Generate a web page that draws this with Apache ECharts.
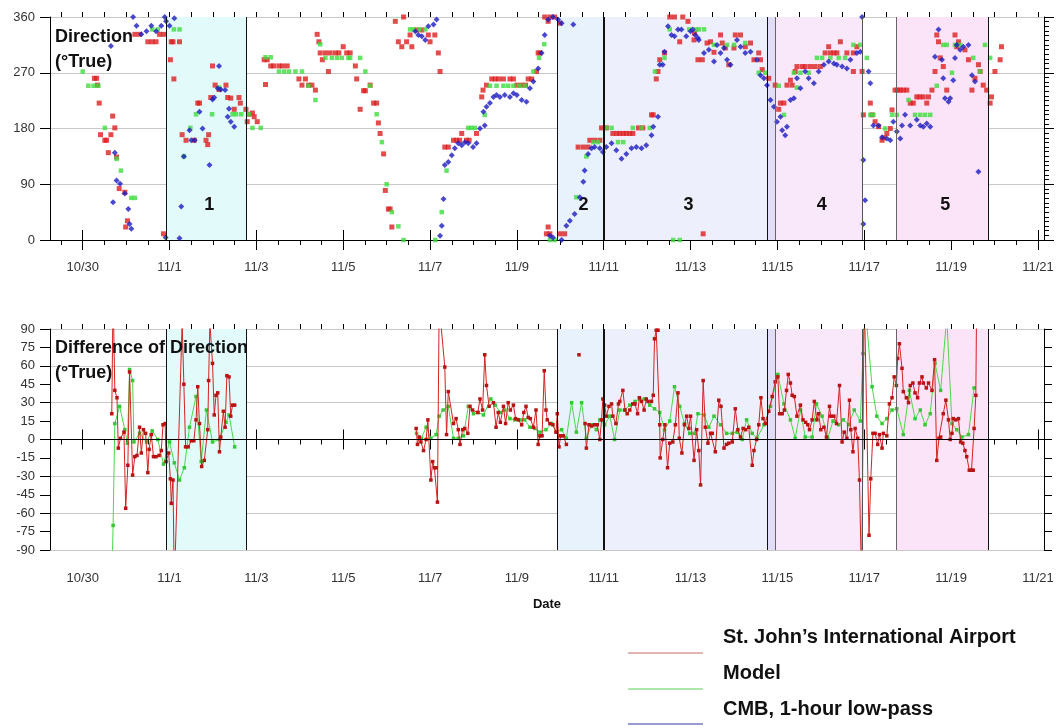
<!DOCTYPE html>
<html>
<head>
<meta charset="utf-8">
<script src="https://cdn.jsdelivr.net/npm/echarts@6/dist/echarts.min.js"></script>
<style>
  html, body { margin: 0; padding: 0; background: #fff; }
  #chart { width: 1057px; height: 728px; }
</style>
</head>
<body>
<div id="chart"></div>
<script>
// x values are day numbers counted from 1 October (Oct 30 = 30, Nov 1 = 32, Nov 21 = 52)

const dateTicks = [30, 32, 34, 36, 38, 40, 42, 44, 46, 48, 50, 52];
const halfDayTicks = [29.5, 30, 30.5, 31, 31.5, 32, 32.5, 33, 33.5, 34, 34.5, 35, 35.5, 36, 36.5, 37, 37.5,
  38, 38.5, 39, 39.5, 40, 40.5, 41, 41.5, 42, 42.5, 43, 43.5, 44, 44.5, 45, 45.5, 46, 46.5, 47, 47.5,
  48, 48.5, 49, 49.5, 50, 50.5, 51, 51.5, 52];

// event periods (start, end) in day numbers
const periods = [
  { name: '1', from: 31.935, to: 33.762 },
  { name: '2', from: 40.933, to: 42.0 },
  { name: '3', from: 42.0, to: 45.77 },
  { name: '',  from: 45.77, to: 45.955 },
  { name: '4', from: 45.955, to: 47.95 },
  { name: '5', from: 48.735, to: 50.855 }
];
const periodEdges = [31.935, 33.762, 40.933, 42.0, 45.77, 45.955, 47.95, 48.735, 50.855];

// wind direction, St. John's International Airport
const stnDir = [
  [30.27,261],[30.32,261],[30.34,250],[30.38,221],[30.41,170],[30.51,161],[30.55,161],[30.59,141],[30.65,170],[30.69,200],
  [30.74,181],[30.78,134],[30.84,83],[30.97,77],[30.99,21],[31.03,31],[31.2,332],[31.31,332],[31.5,320],[31.6,320],
  [31.69,320],[31.77,332],[31.87,332],[31.86,10],[32.02,291],[32.04,320],[32.08,320],[32.1,260],[32.23,320],
  [32.29,170],[32.38,161],[32.57,161],[32.65,221],[32.69,221],[32.84,161],[32.88,154],[32.9,170],[32.95,230],[32.99,281],
  [33.05,250],[33.14,243],[33.3,250],[33.34,230],[33.41,229],[33.49,211],[33.6,230],[33.63,221],[33.76,211],[33.79,191],
  [33.83,203],[33.91,205],[33.95,199],[34.02,191],[34.18,291],[34.21,251],[34.25,291],[34.33,281],[34.4,281],[34.52,281],
  [34.6,281],[34.71,281],[34.98,260],[35.05,250],[35.13,260],[35.2,250],[35.28,250],[35.36,242],[35.4,332],[35.44,320],
  [35.47,302],[35.52,291],[35.59,302],[35.66,272],[35.7,302],[35.82,302],[35.9,302],[36.0,312],[36.08,302],[36.16,302],
  [36.28,281],[36.31,260],[36.39,211],[36.47,241],[36.51,241],[36.62,250],[36.7,221],[36.77,221],[36.81,189],[36.85,172],
  [36.93,139],[36.97,80],[37.04,50],[37.08,50],[37.12,21],[37.2,353],[37.27,320],[37.35,312],[37.39,360],[37.46,320],
  [37.54,331],[37.58,312],[37.69,339],[37.81,339],[37.96,331],[38.0,320],[38.11,331],[38.19,302],[38.23,272],[38.34,150],
  [38.42,150],[38.54,161],[38.61,161],[38.68,161],[38.73,172],[38.84,161],[38.9,161],[39.07,172],[39.19,231],[39.22,242],
  [39.3,250],[39.42,260],[39.5,260],[39.58,260],[39.69,260],[39.84,260],[39.92,260],[40.0,250],[40.11,250],[40.2,250],
  [40.26,260],[40.34,260],[40.45,272],[40.49,302],[40.53,302],[40.64,360],[40.72,353],[40.76,360],[40.87,360],[40.99,350],
  [40.68,10],[40.72,21],[40.76,10],[40.99,10],[41.1,10],[41.41,150],[41.53,150],[41.64,150],[41.68,161],[41.79,161],
  [41.91,161],[41.95,181],[42.06,181],[42.21,172],[42.3,172],[42.37,172],[42.45,172],[42.52,172],[42.6,172],[42.67,172],
  [42.8,181],[42.9,181],[43.1,202],[43.14,202],[43.21,260],[43.25,272],[43.29,291],[43.4,302],[43.52,360],[43.63,360],
  [43.75,320],[43.82,360],[43.94,353],[44.09,334],[44.17,291],[44.08,323],[44.27,291],[44.29,10],[44.38,318],[44.46,320],
  [44.54,303],[44.69,331],[44.73,318],[44.8,310],[44.88,283],[45.0,310],[45.03,331],[45.15,331],[45.26,312],[45.38,318],
  [45.46,291],[45.57,302],[45.61,291],[45.65,275],[45.8,261],[45.95,250],[46.03,211],[46.07,221],[46.15,221],[46.22,250],
  [46.3,258],[46.34,250],[46.41,272],[46.45,280],[46.57,280],[46.64,280],[46.76,280],[46.87,280],[46.99,280],[47.1,302],
  [47.18,312],[47.22,302],[47.3,302],[47.37,302],[47.45,320],[47.6,302],[47.75,302],[47.83,312],[47.75,272],[47.95,272],
  [47.98,202],[48.14,221],[48.18,202],[48.25,191],[48.33,183],[48.41,161],[48.45,165],[48.52,172],[48.6,180],[48.64,210],
  [48.71,242],[48.77,242],[48.83,242],[48.9,242],[48.98,242],[49.06,221],[49.13,221],[49.21,231],[49.28,231],[49.36,231],
  [49.44,221],[49.48,231],[49.56,242],[49.63,272],[49.67,331],[49.71,320],[49.75,294],[49.82,280],[49.9,242],[50.09,331],
  [50.13,312],[50.17,320],[50.32,307],[50.4,291],[50.48,242],[50.55,261],[50.63,283],[50.67,272],[50.74,250],[50.82,242],
  [50.9,221],[50.93,231],[51.01,272],[51.13,291],[51.16,312]
];

// wind direction, model
const modelDir = [
  [30.0,272],[30.13,249],[30.25,249],[30.36,249],[30.51,181],[30.78,131],[30.88,112],[31.12,68],[31.2,68],[31.6,340],
  [31.73,340],[32.1,340],[32.23,340],[32.33,135],[32.48,181],[32.61,203],[32.98,203],[33.14,246],[33.45,203],[33.53,203],
  [33.65,203],[33.83,203],[33.91,181],[34.1,181],[34.21,295],[34.33,295],[34.52,272],[34.64,272],[34.75,272],[34.9,272],
  [35.05,272],[35.2,249],[35.36,226],[35.47,316],[35.59,294],[35.74,294],[35.86,294],[35.97,294],[36.12,294],[36.16,294],
  [36.39,294],[36.51,272],[36.62,249],[36.77,203],[36.89,158],[37.0,90],[37.12,45],[37.27,22],[37.39,0],[37.54,340],
  [37.62,340],[37.75,340],[37.89,340],[38.12,0],[38.27,45],[38.38,112],[38.88,181],[38.95,181],[39.03,181],[39.26,202],
  [39.38,249],[39.53,249],[39.69,249],[39.8,249],[39.92,249],[40.05,249],[40.18,249],[40.38,272],[40.51,294],[40.63,316],
  [40.76,0],[40.87,0],[41.37,69],[41.6,135],[41.76,158],[41.87,158],[42.06,181],[42.18,181],[42.33,158],[42.45,158],
  [42.67,181],[42.87,181],[43.06,181],[43.18,272],[43.4,294],[43.52,340],[43.6,0],[43.75,0],[43.97,340],[44.13,340],
  [44.19,340],[44.31,340],[44.54,315],[44.84,315],[45.0,315],[45.26,318],[45.57,270],[45.72,270],[46.03,249],[46.15,202],
  [46.38,270],[46.45,246],[46.53,270],[46.72,270],[46.91,294],[47.03,294],[47.22,294],[47.41,294],[47.56,294],[47.75,315],
  [47.91,315],[48.06,294],[48.14,202],[48.21,202],[48.48,180],[48.64,202],[48.75,202],[49.02,226],[49.17,202],[49.29,202],
  [49.4,202],[49.52,202],[49.67,249],[49.82,315],[49.9,315],[50.02,270],[50.09,315],[50.21,315],[50.51,294],[50.67,272],
  [50.78,315],[50.9,294]
];

// wind direction, CMB 1-hour low-pass
const cmbDir = [
  [30.65,313],[30.7,61],[30.74,141],[30.78,96],[30.86,91],[30.97,75],[31.05,50],[31.08,26],[31.12,18],[31.16,360],
  [31.24,346],[31.35,332],[31.47,337],[31.58,346],[31.69,337],[31.81,346],[31.89,360],[31.92,353],[32.0,346],[32.11,358],
  [31.91,4],[32.23,3],[32.27,54],[32.33,135],[32.46,177],[32.5,161],[32.58,161],[32.69,207],[32.76,180],[32.92,121],
  [32.99,227],[33.03,230],[33.11,245],[33.14,281],[33.18,243],[33.28,242],[33.34,199],[33.37,212],[33.41,191],[33.49,183],
  [37.66,337],[37.73,331],[37.81,329],[37.89,323],[37.96,345],[38.08,348],[38.15,356],[38.23,7],[38.27,23],[38.31,66],
  [38.34,121],[38.42,126],[38.5,137],[38.57,148],[38.65,156],[38.73,153],[38.8,158],[38.88,156],[38.99,150],[39.07,156],
  [39.15,180],[39.23,207],[39.26,185],[39.3,215],[39.38,221],[39.46,231],[39.53,234],[39.61,231],[39.72,234],[39.84,231],
  [39.92,237],[40.0,234],[40.11,226],[40.22,223],[40.3,245],[40.38,256],[40.49,277],[40.57,302],[40.64,331],[40.72,356],
  [40.83,360],[40.95,356],[41.03,350],[41.3,348],[40.76,7],[40.83,4],[41.03,0],[41.14,23],[41.22,31],[41.33,42],
  [41.45,69],[41.53,94],[41.56,112],[41.64,139],[41.72,148],[41.79,150],[41.91,148],[41.98,142],[42.06,150],[42.18,156],
  [42.29,145],[42.41,131],[42.52,139],[42.64,148],[42.75,150],[42.87,148],[42.98,153],[43.1,169],[43.14,183],[43.25,199],
  [43.29,283],[43.36,283],[43.4,304],[43.48,345],[43.56,331],[43.63,329],[43.71,340],[43.79,340],[43.9,329],[44.0,337],
  [44.05,340],[44.11,331],[44.17,326],[44.19,323],[44.31,302],[44.42,307],[44.54,288],[44.61,315],[44.69,302],[44.77,310],
  [44.84,291],[44.92,283],[45.07,323],[45.15,312],[45.26,302],[45.38,304],[45.53,291],[45.61,266],[45.69,261],[45.76,250],
  [45.84,226],[45.92,215],[45.99,191],[46.07,199],[46.11,177],[46.18,169],[46.22,183],[46.3,226],[46.38,229],[46.45,261],
  [46.53,245],[46.64,272],[46.72,261],[46.84,253],[46.95,272],[47.07,283],[47.18,288],[47.3,285],[47.37,283],[47.49,280],
  [47.6,277],[47.68,291],[47.83,302],[47.91,304],[47.95,360],[47.98,129],[48.02,64],[47.98,26],[48.1,272],[48.14,253],
  [48.21,185],[48.33,185],[48.41,166],[48.52,164],[48.6,161],[48.67,191],[48.75,175],[48.83,164],[48.87,185],[48.94,202],
  [49.06,185],[49.21,194],[49.29,185],[49.36,183],[49.44,188],[49.52,183],[49.63,296],[49.71,340],[49.79,291],[49.82,261],
  [49.86,229],[49.94,223],[49.98,229],[50.05,258],[50.09,294],[50.13,315],[50.21,307],[50.28,312],[50.4,315],[50.48,266],
  [50.55,256],[50.63,110]
];

// direction difference, St. John's International Airport ('-' marks a gap)
const stnDiff = [
  [30.67,21],[30.7,120],[30.74,40],[30.79,34],[30.82,-7],[30.87,1],[30.95,6],[30.99,-56],[31.04,-21],[31.08,55],
  [31.15,-29],[31.2,-14],[31.25,-13],[31.31,10],[31.35,-11],[31.4,8],[31.45,5],[31.5,-27],[31.53,-8],[31.58,4],
  [31.63,-14],[31.69,-14],[31.76,-13],[31.81,-9],[31.85,12],[31.9,13],[31.92,-18],[31.98,-11],[32.02,-32],[32.04,-52],
  [32.08,-33],[32.11,-120],[32.29,95],[32.33,45],[32.37,-6],[32.43,-6],[32.5,-1],[32.56,-1],[32.61,16],[32.65,43],
  [32.69,13],[32.74,-22],[32.8,-17],[32.88,8],[32.9,48],[32.93,95],[32.99,62],[33.03,20],[33.07,36],[33.11,38],
  [33.15,-10],[33.18,2],[33.24,23],[33.28,10],[33.32,52],[33.37,51],[33.41,19],[33.45,28],[33.5,28],[35.5,'-'],
  [37.68,9],[37.71,-4],[37.75,2],[37.79,-2],[37.85,-9],[37.91,0],[37.95,16],[38.02,-33],[38.06,-18],[38.1,-23],
  [38.14,-23],[38.17,-51],[38.21,110],[38.34,59],[38.38,4],[38.42,39],[38.54,13],[38.6,17],[38.65,8],[38.69,-4],
  [38.75,8],[38.8,9],[38.87,5],[38.92,27],[38.98,24],[39.1,22],[39.15,33],[39.21,24],[39.26,69],[39.3,44],
  [39.36,27],[39.46,30],[39.52,10],[39.57,22],[39.62,14],[39.69,27],[39.74,13],[39.8,30],[39.85,24],[39.92,28],
  [39.97,17],[40.03,16],[40.11,12],[40.16,22],[40.21,27],[40.26,18],[40.31,17],[40.38,10],[40.44,24],[40.49,-4],
  [40.53,3],[40.58,3],[40.63,56],[40.67,24],[40.7,16],[40.76,13],[40.83,12],[40.9,6],[40.93,21],[40.97,-6],
  [41.01,3],[41.07,3],[41.14,-4],[41.3,'-'],[41.43,69],[41.5,'-'],[41.57,13],[41.6,-7],[41.66,12],[41.72,11],
  [41.79,12],[41.85,12],[41.91,0],[41.95,16],[41.98,33],[42.02,28],[42.06,19],[42.12,27],[42.18,29],[42.21,19],
  [42.28,13],[42.34,29],[42.37,31],[42.44,40],[42.49,24],[42.54,21],[42.6,24],[42.67,29],[42.72,29],[42.78,21],
  [42.82,34],[42.87,31],[42.93,24],[42.98,33],[43.02,31],[43.1,31],[43.14,36],[43.17,82],[43.21,89],[43.25,89],
  [43.29,12],[43.3,-15],[43.36,0],[43.41,12],[43.47,-23],[43.52,-3],[43.59,-2],[43.65,12],[43.71,38],[43.74,1],
  [43.8,-11],[43.86,12],[43.91,19],[43.96,9],[44.0,19],[44.08,-17],[44.14,8],[44.19,-9],[44.23,-37],[44.29,48],
  [44.34,10],[44.4,-3],[44.46,5],[44.5,5],[44.57,-10],[44.65,32],[44.7,27],[44.77,-7],[44.83,-4],[44.88,-3],
  [44.96,-2],[45.03,25],[45.09,8],[45.15,2],[45.21,9],[45.27,8],[45.34,10],[45.42,-21],[45.46,-9],[45.52,0],
  [45.57,12],[45.62,34],[45.67,17],[45.72,13],[45.8,23],[45.88,35],[45.95,47],[46.01,51],[46.05,21],[46.11,21],
  [46.16,24],[46.21,40],[46.25,53],[46.3,46],[46.34,36],[46.39,35],[46.45,19],[46.53,28],[46.59,16],[46.65,14],
  [46.7,12],[46.74,8],[46.8,16],[46.85,31],[46.91,16],[46.95,21],[47.0,8],[47.07,10],[47.13,2],[47.2,27],
  [47.23,19],[47.3,19],[47.36,13],[47.43,44],[47.49,-2],[47.54,6],[47.6,1],[47.66,32],[47.69,8],[47.74,-10],
  [47.79,9],[47.85,1],[47.89,-33],[47.94,-120],[48.0,120],[48.11,-78],[48.15,-32],[48.2,5],[48.25,5],[48.31,-4],
  [48.35,4],[48.41,-7],[48.44,5],[48.52,3],[48.58,29],[48.64,34],[48.69,51],[48.74,44],[48.77,66],[48.81,78],
  [48.87,58],[48.9,39],[48.97,34],[49.02,30],[49.06,44],[49.12,46],[49.17,38],[49.23,34],[49.27,46],[49.33,51],
  [49.36,46],[49.43,42],[49.48,46],[49.56,40],[49.62,65],[49.67,-17],[49.72,1],[49.76,2],[49.82,21],[49.88,32],
  [49.94,16],[49.98,0],[50.02,5],[50.05,17],[50.11,16],[50.17,17],[50.22,-2],[50.27,-3],[50.32,-9],[50.36,-14],
  [50.42,-25],[50.47,-25],[50.51,-25],[50.53,9],[50.57,36],[50.59,120]
];

// direction difference, model
const modelDiff = [
  [30.67,-120],[30.7,-70],[30.74,13],[30.85,27],[30.97,8],[31.03,-3],[31.08,57],[31.15,48],[31.18,-2],[31.31,5],
  [31.47,-2],[31.6,7],[31.73,0],[31.86,-20],[32.0,-2],[32.11,-19],[32.23,-33],[32.34,-23],[32.46,10],[32.61,35],
  [32.73,-18],[32.85,24],[32.99,-2],[33.15,0],[33.3,14],[33.37,20],[33.5,-6],[35.5,'-'],
  [37.69,5],[37.8,1],[37.91,10],[38.02,1],[38.14,4],[38.21,19],[38.3,24],[38.42,27],[38.54,1],[38.65,1],
  [38.77,3],[38.88,27],[39.0,21],[39.11,22],[39.23,20],[39.4,33],[39.5,28],[39.62,22],[39.72,24],[39.84,17],
  [39.95,16],[40.07,16],[40.18,16],[40.3,10],[40.41,9],[40.53,6],[40.67,8],[40.8,13],[40.91,6],[41.03,8],
  [41.14,1],[41.26,30],[41.37,6],[41.49,30],[41.6,1],[41.72,12],[41.83,8],[41.91,16],[42.02,12],[42.14,19],
  [42.25,0],[42.37,24],[42.48,24],[42.6,28],[42.72,31],[42.83,33],[42.94,33],[43.06,28],[43.17,25],[43.29,22],
  [43.4,8],[43.52,15],[43.63,43],[43.75,27],[43.86,13],[43.98,5],[44.09,5],[44.17,21],[44.31,20],[44.42,10],
  [44.54,19],[44.69,12],[44.83,5],[44.96,5],[45.07,6],[45.19,0],[45.29,16],[45.42,5],[45.53,1],[45.69,12],
  [45.84,27],[46.01,53],[46.15,29],[46.3,16],[46.41,1],[46.53,24],[46.64,2],[46.8,2],[46.9,29],[47.03,19],
  [47.16,1],[47.28,15],[47.41,12],[47.52,16],[47.64,12],[47.77,24],[47.91,15],[47.97,70],[48.02,110],[48.18,43],
  [48.29,19],[48.41,13],[48.52,17],[48.64,24],[48.75,25],[48.9,4],[49.04,40],[49.17,17],[49.29,24],[49.4,12],
  [49.52,21],[49.63,62],[49.76,40],[49.9,100],[50.02,13],[50.13,8],[50.25,2],[50.4,4],[50.53,42]
];

const legendNames = ['St. John\u2019s International Airport', 'Model', 'CMB, 1-hour low-pass'];

// ---------- styling ----------
const FONT = '"Liberation Sans", Arial, sans-serif';
const RED = '#dc1f1f', GREEN = '#3ddc3d', BLUE = '#1c1cc0';
const periodColors = ['#e2fafa', '#e7f2fc', '#eeeffc', '#e2ddf6', '#f9e8f9', '#fbe4f7'];
const edgeColors = ['#111', '#111', '#111', '#111', '#111', '#666', '#555', '#666', '#111'];
const X_MIN = 29.247, X_MAX = 52.14;

const dateFmt = v => (v <= 31 ? '10/' + Math.round(v) : '11/' + Math.round(v - 31));

function xAxesFor(gridIndex, withName, labelMargin) {
  const base = {
    type: 'value', gridIndex, min: X_MIN, max: X_MAX,
    splitLine: { show: false }
  };
  return [
    Object.assign({}, base, {
      position: 'bottom',
      axisLine: { lineStyle: { color: '#000', width: 1 } },
      axisTick: { inside: false, length: 10, customValues: dateTicks, lineStyle: { color: '#000' } },
      axisLabel: { customValues: dateTicks, formatter: dateFmt, margin: labelMargin, fontFamily: FONT, fontSize: 13, color: '#333' },
      name: withName ? 'Date' : '', nameLocation: 'middle', nameGap: 48,
      nameTextStyle: { fontFamily: FONT, fontSize: 13, fontWeight: 'bold', color: '#111' }
    }),
    Object.assign({}, base, {
      position: 'bottom',
      axisLine: { show: false },
      axisTick: { length: 5, customValues: halfDayTicks, lineStyle: { color: '#000' } },
      axisLabel: { show: false }
    }),
    Object.assign({}, base, {
      position: 'top',
      axisLine: { lineStyle: { color: '#000', width: 1 } },
      axisTick: { length: 10, customValues: dateTicks, lineStyle: { color: '#000' } },
      axisLabel: { show: false }
    }),
    Object.assign({}, base, {
      position: 'top',
      axisLine: { show: false },
      axisTick: { length: 5, customValues: halfDayTicks, lineStyle: { color: '#000' } },
      axisLabel: { show: false }
    })
  ];
}

const yLabel = { fontFamily: FONT, fontSize: 13, color: '#333', margin: 15 };

const yAxes = [
  // top panel: 0..360
  { type: 'value', gridIndex: 0, position: 'left', min: 0, max: 360, interval: 90,
    axisLine: { show: true, lineStyle: { color: '#000' } },
    axisTick: { show: true, length: 10, lineStyle: { color: '#000' } },
    axisLabel: yLabel,
    splitLine: { show: true, lineStyle: { color: '#c8c8c8', width: 1 } } },
  { type: 'value', gridIndex: 0, position: 'right', min: 0, max: 360, interval: 7.5,
    axisLine: { show: true, lineStyle: { color: '#000' } },
    axisTick: { show: true, length: 5, lineStyle: { color: '#000' } },
    axisLabel: { show: false }, splitLine: { show: false } },
  { type: 'value', gridIndex: 0, position: 'right', min: 0, max: 360, interval: 90,
    axisLine: { show: false },
    axisTick: { show: true, length: 10, lineStyle: { color: '#000' } },
    axisLabel: { show: false }, splitLine: { show: false } },
  // bottom panel: -90..90
  { type: 'value', gridIndex: 1, position: 'left', min: -90, max: 90, interval: 15,
    axisLine: { show: true, lineStyle: { color: '#000' } },
    axisTick: { show: true, length: 10, lineStyle: { color: '#000' } },
    axisLabel: yLabel, splitLine: { show: false } },
  { type: 'value', gridIndex: 1, position: 'right', min: -90, max: 90, interval: 15,
    axisLine: { show: true, lineStyle: { color: '#000' } },
    axisTick: { show: true, length: 8, lineStyle: { color: '#000' } },
    axisLabel: { show: false }, splitLine: { show: false } },
  { type: 'value', gridIndex: 1, position: 'left', min: -90, max: 90, interval: 30,
    axisLine: { show: false }, axisTick: { show: false }, axisLabel: { show: false },
    splitLine: { show: true, lineStyle: { color: '#c8c8c8', width: 1 } } }
];

function periodAreas(withLabels) {
  return periods.map((p, i) => [
    { xAxis: p.from, itemStyle: { color: periodColors[i] },
      label: withLabels && p.name ? {
        show: true, position: 'insideBottom', distance: 26, offset: [3, 0],
        formatter: p.name, fontFamily: FONT, fontSize: 18, fontWeight: 'bold', color: '#111'
      } : { show: false } },
    { xAxis: p.to }
  ]);
}

function periodLines(extra) {
  const lines = periodEdges.map((x, i) => ({
    xAxis: x, lineStyle: { color: edgeColors[i], width: x === 42.0 ? 2 : 1, type: 'solid' }
  }));
  return lines.concat(extra || []);
}

function backdrop(xi, yi, withLabels, extraLines) {
  return {
    type: 'line', xAxisIndex: xi, yAxisIndex: yi, data: [], silent: true, z: 1,
    markArea: { silent: true, data: periodAreas(withLabels) },
    markLine: { silent: true, symbol: 'none', label: { show: false }, animation: false,
      data: periodLines(extraLines) }
  };
}

function dots(name, data, color, symbol, size) {
  return {
    name, type: 'scatter', xAxisIndex: 0, yAxisIndex: 0, data, z: 3,
    symbol, symbolSize: size, itemStyle: { color }, animation: false
  };
}

function diffLine(name, data, lineColor, dotColor, z) {
  return {
    name, type: 'line', xAxisIndex: 4, yAxisIndex: 3, data, z,
    symbol: 'rect', symbolSize: 3.5, showSymbol: true, connectNulls: false,
    lineStyle: { color: lineColor, width: 1 }, itemStyle: { color: dotColor },
    animation: false
  };
}

const legendY = [653, 689, 724];
const legendTextY = [637, 673, 709];
const legendColors = ['#c86a6a', '#5ad25a', '#3636a6'];
const legendGraphics = [];
legendNames.forEach((n, i) => {
  legendGraphics.push({ type: 'line', shape: { x1: 628, y1: legendY[i], x2: 703, y2: legendY[i] },
    style: { stroke: legendColors[i], lineWidth: 1.2 } });
  legendGraphics.push({ type: 'text', x: 723, y: legendTextY[i],
    style: { text: n, font: 'bold 20px ' + FONT, fill: '#111', textVerticalAlign: 'middle' } });
});

const option = {
  backgroundColor: '#fff',
  animation: false,
  grid: [
    { left: 50, top: 17, width: 994, height: 223, containLabel: false },
    { left: 50, top: 329, width: 994, height: 221, containLabel: false }
  ],
  xAxis: xAxesFor(0, false, 21).concat(xAxesFor(1, true, 22)),
  yAxis: yAxes,
  series: [
    backdrop(0, 0, true),
    dots(legendNames[0], stnDir, RED, 'rect', 5),
    dots(legendNames[1], modelDir, GREEN, 'rect', 4.5),
    dots(legendNames[2], cmbDir, BLUE, 'diamond', 6),
    backdrop(4, 3, false, [{ yAxis: 0, lineStyle: { color: '#000', width: 1, type: 'solid' } }]),
    diffLine(legendNames[1], modelDiff, '#4ad84a', '#36c836', 3),
    diffLine(legendNames[0], stnDiff, '#d42222', '#b81414', 4)
  ],
  graphic: [
    { type: 'text', left: 55, top: 25, z: 10,
      style: { text: 'Direction\n(\u00b0True)', font: 'bold 18px ' + FONT, fill: '#111', lineHeight: 25 } },
    { type: 'text', left: 55, top: 336, z: 10,
      style: { text: 'Difference of Direction\n(\u00b0True)', font: 'bold 18px ' + FONT, fill: '#111', lineHeight: 25 } }
  ].concat(legendGraphics)
};

const chart = echarts.init(document.getElementById('chart'), null, { renderer: 'canvas' });
chart.setOption(option);
</script>
</body>
</html>
